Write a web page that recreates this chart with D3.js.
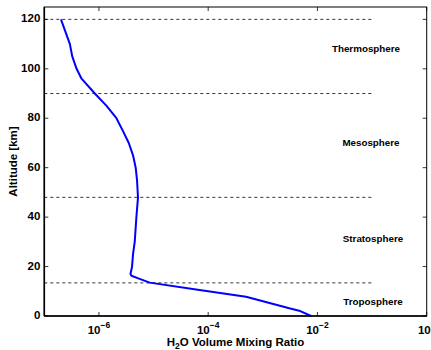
<!DOCTYPE html>
<html>
<head>
<meta charset="utf-8">
<script src="https://cdn.jsdelivr.net/npm/d3@7"></script>
<style>
  body { margin: 0; background: #fff; }
  svg { display: block; font-family: "Liberation Sans", Arial, Helvetica, sans-serif; }
</style>
</head>
<body>
<div id="chart"></div>
<script>
// Perfil de vapor de agua (altitud en km, razón de mezcla)
const altitudes = [0, 2.15, 3.1, 7.8, 10.5, 13.5, 15, 16.3, 17, 20, 25, 30, 40, 48, 55, 60, 65, 70, 75, 80, 85, 90, 96, 100, 105, 110, 120];
const mixingRatio = [7.67e-3, 4.63e-3, 3.05e-3, 4.93e-4, 6.93e-5, 8.5e-6, 5.57e-6, 3.94e-6, 3.78e-6, 4.04e-6, 4.21e-6, 4.52e-6, 4.85e-6, 5.19e-6, 4.98e-6, 4.71e-6, 4.21e-6, 3.52e-6, 2.73e-6, 2.09e-6, 1.38e-6, 8.41e-7, 4.81e-7, 3.90e-7, 3.25e-7, 2.94e-7, 2.02e-7];

// Límites entre capas (km) y etiquetas
const boundaries = [13.4, 48, 90, 120];
const layerNames = ['Troposphere', 'Stratosphere', 'Mesosphere', 'Thermosphere'];
const layerAlt = [5.4, 30.8, 70, 108];
const layerX = [0.104, 0.104, 0.0955, 0.0774];

const xTicks = [1e-6, 1e-4, 1e-2, 1];
const yTicks = [0, 20, 40, 60, 80, 100, 120];

const margin = {top: 7, right: 4.3, bottom: 34, left: 44.3},
    W = 431, H = 350,
    width = W - margin.left - margin.right,
    height = H - margin.top - margin.bottom;

let svg = d3.select('#chart').append('svg')
    .attr('width', W).attr('height', H);

let g = svg.append('g')
    .attr('transform', 'translate(' + margin.left + ',' + margin.top + ')');

let x = d3.scaleLog().domain([1e-7, 1]).range([0, width]);
let y = d3.scaleLinear().domain([0, 125]).range([height, 0]);

// Líneas discontinuas
g.selectAll('.bound')
    .data(boundaries)
    .enter().append('line')
    .attr('x1', x(1e-7)).attr('x2', x(1e-1))
    .attr('y1', d => y(d)).attr('y2', d => y(d))
    .attr('stroke', '#000').attr('stroke-width', 0.8)
    .attr('stroke-dasharray', '3,3');

// Curva
let line = d3.line()
    .x((d, i) => x(mixingRatio[i]))
    .y(d => y(d));

g.append('path')
    .datum(altitudes)
    .attr('d', line)
    .attr('fill', 'none')
    .attr('stroke', '#0000ff')
    .attr('stroke-width', 2)
    .attr('stroke-linejoin', 'round');

// Etiquetas de capas
g.selectAll('.layer')
    .data(layerNames)
    .enter().append('text')
    .attr('x', (d, i) => x(layerX[i]))
    .attr('y', (d, i) => y(layerAlt[i]))
    .attr('text-anchor', 'middle')
    .attr('dominant-baseline', 'middle')
    .attr('font-size', 9.8)
    .attr('font-weight', 'bold')
    .text(d => d);

// Caja
g.append('rect')
    .attr('width', width).attr('height', height)
    .attr('fill', 'none').attr('stroke', '#000').attr('stroke-width', 1);

// Ejes principales más gruesos
g.append('line').attr('x1', 0).attr('x2', width).attr('y1', height).attr('y2', height)
    .attr('stroke', '#000').attr('stroke-width', 1.6);
g.append('line').attr('x1', 0).attr('x2', 0).attr('y1', 0).attr('y2', height)
    .attr('stroke', '#000').attr('stroke-width', 1.6);

// Marcas del eje Y (izquierda y derecha)
const tk = 4;
yTicks.forEach(function(v) {
    g.append('line').attr('x1', 0).attr('x2', tk).attr('y1', y(v)).attr('y2', y(v))
        .attr('stroke', '#000').attr('stroke-width', 0.8);
    g.append('line').attr('x1', width).attr('x2', width - tk).attr('y1', y(v)).attr('y2', y(v))
        .attr('stroke', '#000').attr('stroke-width', 0.8);
    g.append('text')
        .attr('x', -4).attr('y', y(v))
        .attr('text-anchor', 'end').attr('dominant-baseline', 'middle')
        .attr('font-size', 11.5).attr('font-weight', 'bold')
        .text(v);
});

// Marcas del eje X (abajo y arriba)
xTicks.forEach(function(v) {
    g.append('line').attr('x1', x(v)).attr('x2', x(v)).attr('y1', height).attr('y2', height - tk)
        .attr('stroke', '#000').attr('stroke-width', 0.8);
    g.append('line').attr('x1', x(v)).attr('x2', x(v)).attr('y1', 0).attr('y2', tk)
        .attr('stroke', '#000').attr('stroke-width', 0.8);
    let exp = Math.round(Math.log10(v));
    let t = g.append('text')
        .attr('x', x(v)).attr('y', height + 18)
        .attr('text-anchor', 'middle')
        .attr('font-size', 11.5).attr('font-weight', 'bold');
    t.append('tspan').text('10');
    t.append('tspan').attr('dy', -6).attr('font-size', 8.5)
        .text(exp === 0 ? '0' : '\u2212' + Math.abs(exp));
});

// Títulos de ejes
let xl = g.append('text')
    .attr('x', width / 2).attr('y', height + 30)
    .attr('text-anchor', 'middle')
    .attr('font-size', 11.5).attr('font-weight', 'bold');
xl.append('tspan').text('H');
xl.append('tspan').attr('dy', 3).attr('font-size', 8.5).text('2');
xl.append('tspan').attr('dy', -3).text('O Volume Mixing Ratio');

g.append('text')
    .attr('transform', 'translate(' + (-27) + ',' + (height / 2) + ') rotate(-90)')
    .attr('text-anchor', 'middle')
    .attr('font-size', 11.5).attr('font-weight', 'bold')
    .text('Altitude [km]');
</script>
</body>
</html>
